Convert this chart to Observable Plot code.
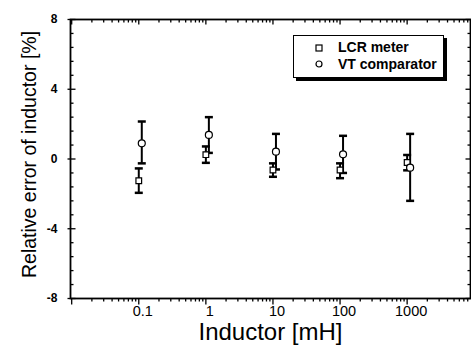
<!DOCTYPE html>
<html><head><meta charset="utf-8">
<script src="https://cdn.jsdelivr.net/npm/d3@7"></script>
<script src="https://cdn.jsdelivr.net/npm/@observablehq/plot@0.6"></script>
<style>
body{margin:0;background:#fff;}
#wrap{position:relative;width:471px;height:347px;font-family:"Liberation Sans",Arial,sans-serif;}
#legend{position:absolute;left:293px;top:35px;width:149px;height:41px;border:1px solid #000;background:#fff;box-shadow:3px 3px 0 #000;font-weight:bold;font-size:14px;}
#legend svg{position:absolute;}
#legend span{position:absolute;left:44px;white-space:nowrap;}
</style></head><body><div id="wrap"></div><script>
// ---- data ----
const inductance = [0.1, 1, 10, 100, 1000];           // mH
const lcrValue   = [-1.25, 0.25, -0.63, -0.63, -0.2];  // %
const lcrLow     = [-1.94, -0.22, -1.02, -1.1, -0.65];
const lcrHigh    = [-0.54, 0.72, -0.25, -0.25, 0.23];
const vtValue    = [0.9, 1.38, 0.42, 0.27, -0.5];
const vtLow      = [-0.25, 0.35, -0.6, -0.8, -2.4];
const vtHigh     = [2.15, 2.4, 1.44, 1.33, 1.44];
const seriesNames = ["LCR meter", "VT comparator"];
const xTickValues = [0.1, 1, 10, 100, 1000];
const xTickLabels = ["0.1", "1", "10", "100", "1000"];
const yTickValues = [-8, -4, 0, 4, 8];
const yTickLabels = ["-8", "-4", "0", "4", "8"];
const xTitle = "Inductor [mH]";
const yTitle = "Relative error of inductor [%]";

const xDomain = [0.0096, 8800];
const yDomain = [-8, 8];

const rows = inductance.map((x, i) => ({x, lcr: lcrValue[i], lcrLo: lcrLow[i], lcrHi: lcrHigh[i], vt: vtValue[i], vtLo: vtLow[i], vtHi: vtHigh[i]}));

// minor ticks
const xMinor = [];
for (const dec of [0.001, 0.01, 0.1, 1, 10, 100, 1000]) for (let k = 2; k <= 9; k++) { const v = dec * k; if (v > xDomain[0] && v < xDomain[1]) xMinor.push(v); }
const xMajor = [0.01, ...xTickValues];
const yMinor = d3.range(-8, 8.01, 0.8).map(v => +v.toFixed(2)).filter(v => !yTickValues.includes(v));

const seg = (x1, y1, x2, y2) => ({draw(ctx) { ctx.moveTo(x1, y1); ctx.lineTo(x2, y2); }});
const capSym = seg(-4, 0, 4, 0);
const tk = {stroke: "black", fill: "none", r: 1, strokeWidth: 1.3};

const chart = Plot.plot({
  width: 471, height: 347,
  marginLeft: 70, marginRight: 1, marginTop: 19, marginBottom: 49,
  style: {fontFamily: "'Liberation Sans', Arial, sans-serif", background: "white", color: "black"},
  x: {type: "log", domain: xDomain, axis: null},
  y: {domain: yDomain, axis: null},
  marks: [
    // ticks
    Plot.dot(xMajor, {x: d => d, y: -8, symbol: seg(0, 0, 0, 6), ...tk}),
    Plot.dot(xMinor, {x: d => d, y: -8, symbol: seg(0, 0, 0, 3), ...tk}),
    Plot.dot(xMajor, {x: d => d, y: 8, symbol: seg(0, 0, 0, 5), ...tk}),
    Plot.dot(xMinor, {x: d => d, y: 8, symbol: seg(0, 0, 0, 3), ...tk}),
    Plot.dot(yTickValues, {x: xDomain[0], y: d => d, symbol: seg(-3, 0, 5, 0), ...tk}),
    Plot.dot(yMinor, {x: xDomain[0], y: d => d, symbol: seg(0, 0, 3, 0), ...tk}),
    Plot.dot(yTickValues, {x: xDomain[1], y: d => d, symbol: seg(0, 0, -5, 0), ...tk}),
    Plot.dot(yMinor, {x: xDomain[1], y: d => d, symbol: seg(0, 0, -3, 0), ...tk}),
    Plot.frame({stroke: "black", strokeWidth: 1.8}),
    // tick labels
    Plot.text(xTickValues, {x: d => d, y: -8, text: (d, i) => xTickLabels[i], dy: 13, dx: 4, fontSize: 14.5}),
    Plot.text(yTickValues, {frameAnchor: "left", y: d => d, text: (d, i) => yTickLabels[i], textAnchor: "end", lineAnchor: "middle", dx: -13, fontSize: 12, fontWeight: "bold"}),
    Plot.text([xTitle], {frameAnchor: "bottom", text: d => d, textAnchor: "middle", lineAnchor: "middle", dy: 34, fontSize: 24, letterSpacing: "0.8px"}),
    Plot.text([yTitle], {frameAnchor: "left", text: d => d, rotate: -90, textAnchor: "middle", lineAnchor: "middle", dx: -40.5, dy: -4.5, fontSize: 19.5}),
    // error bars
    Plot.ruleX(rows, {x: "x", y1: "lcrLo", y2: "lcrHi", stroke: "black", strokeWidth: 2}),
    Plot.dot(rows, {x: "x", y: "lcrLo", symbol: capSym, stroke: "black", strokeWidth: 2.5, r: 1}),
    Plot.dot(rows, {x: "x", y: "lcrHi", symbol: capSym, stroke: "black", strokeWidth: 2.5, r: 1}),
    Plot.ruleX(rows, {x: "x", y1: "vtLo", y2: "vtHi", stroke: "black", strokeWidth: 2, dx: 3}),
    Plot.dot(rows, {x: "x", y: "vtLo", symbol: capSym, stroke: "black", strokeWidth: 2.5, r: 1, dx: 3}),
    Plot.dot(rows, {x: "x", y: "vtHi", symbol: capSym, stroke: "black", strokeWidth: 2.5, r: 1, dx: 3}),
    // markers
    Plot.dot(rows, {x: "x", y: "lcr", symbol: "square", r: 3.2, fill: "white", stroke: "black", strokeWidth: 1.2}),
    Plot.dot(rows, {x: "x", y: "vt", symbol: "circle", r: 3.5, fill: "white", stroke: "black", strokeWidth: 1.2, dx: 3})
  ]
});
const wrap = document.getElementById("wrap");
wrap.appendChild(chart);

// legend overlay
const lg = document.createElement("div");
lg.id = "legend";
lg.innerHTML = `
<svg style="left:20px;top:7px" width="10" height="10"><rect x="2" y="2" width="6" height="6" fill="white" stroke="black" stroke-width="1.2"/></svg>
<span style="top:3px">${seriesNames[0]}</span>
<svg style="left:20px;top:23px" width="10" height="10"><circle cx="5" cy="5" r="3" fill="white" stroke="black" stroke-width="1.2"/></svg>
<span style="top:20px">${seriesNames[1]}</span>`;
wrap.appendChild(lg);
</script></body></html>
